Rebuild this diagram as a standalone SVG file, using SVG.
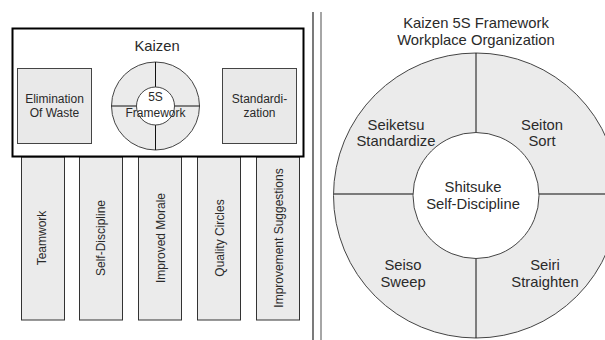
<svg xmlns="http://www.w3.org/2000/svg" width="605" height="340" viewBox="0 0 605 340">
<style>
text{font-family:"Liberation Sans",Arial,sans-serif;fill:#2a2a2a;text-anchor:middle}
.t14{font-size:14.8px}
.t12{font-size:12px}
.t11{font-size:12px}
.box{fill:#e9e9e9;stroke:#444;stroke-width:1}
.pillar{fill:#ebebeb;stroke:#333;stroke-width:1}
.ring{fill:#ebebeb;stroke:#444;stroke-width:1}
.hub{fill:#fff;stroke:#444;stroke-width:1}
.ln{stroke:#111;stroke-width:1;fill:none}
.lnh{stroke:#555;stroke-width:1.6;fill:none}
</style>
<rect width="605" height="340" fill="#fff"/>
<g id="pillars">
<g id="p-teamwork"><rect class="pillar" x="21.5" y="157" width="43" height="163"/><text class="t12" transform="translate(46,238) rotate(-90)">Teamwork</text></g>
<g id="p-selfdiscipline"><rect class="pillar" x="79.5" y="157" width="43" height="163"/><text class="t12" transform="translate(105,238) rotate(-90)">Self-Discipline</text></g>
<g id="p-morale"><rect class="pillar" x="138.5" y="157" width="43" height="163"/><text class="t12" transform="translate(164.5,238) rotate(-90)">Improved Morale</text></g>
<g id="p-quality"><rect class="pillar" x="197.5" y="157" width="43" height="163"/><text class="t12" transform="translate(223.5,238) rotate(-90)">Quality Circles</text></g>
<g id="p-suggestions"><rect class="pillar" x="256.5" y="157" width="43" height="163"/><text class="t12" transform="translate(282.5,238) rotate(-90)">Improvement Suggestions</text></g>
</g>
<g id="kaizen">
<rect x="12.5" y="28.5" width="291" height="128" fill="#fff" stroke="#000" stroke-width="2"/>
<text class="t14" x="157" y="51">Kaizen</text>
</g>
<g id="elimination">
<rect class="box" x="17.5" y="68.5" width="74" height="75"/>
<text class="t11" x="54.5" y="103">Elimination</text>
<text class="t11" x="54.5" y="117">Of Waste</text>
</g>
<g id="standardization">
<rect class="box" x="222.5" y="68.5" width="74" height="75"/>
<text class="t11" x="259.5" y="103">Standardi-</text>
<text class="t11" x="259.5" y="117">zation</text>
</g>
<g id="framework-small">
<circle class="ring" cx="155.5" cy="106" r="44"/>
<line class="ln" x1="155.5" y1="62" x2="155.5" y2="150"/>
<line class="ln" x1="111.5" y1="106" x2="199.5" y2="106"/>
<circle class="hub" cx="155.5" cy="106" r="19"/>
<text class="t11" x="155.5" y="101">5S</text>
<text class="t11" x="155.5" y="117">Framework</text>
</g>
<g id="dividers">
<line x1="313" y1="12" x2="313" y2="340" stroke="#222" stroke-width="1.2"/>
<line x1="321" y1="12" x2="321" y2="340" stroke="#888" stroke-width="1.5"/>
</g>
<g id="title">
<text class="t14" x="476" y="28">Kaizen 5S Framework</text>
<text class="t14" x="476" y="45">Workplace Organization</text>
</g>
<g id="wheel">
<circle class="ring" cx="476" cy="195.5" r="142.5"/>
<line class="ln" x1="476" y1="53" x2="476" y2="133"/>
<line class="ln" x1="476" y1="258" x2="476" y2="338"/>
<line class="lnh" x1="333" y1="194" x2="413" y2="194"/>
<line class="lnh" x1="539" y1="194" x2="605" y2="194"/>
<circle class="hub" cx="476" cy="195.5" r="63"/>
</g>
<g id="seiketsu"><text class="t14" x="396" y="130">Seiketsu</text><text class="t14" x="396" y="146">Standardize</text></g>
<g id="seiton"><text class="t14" x="542" y="130">Seiton</text><text class="t14" x="542" y="146">Sort</text></g>
<g id="shitsuke"><text class="t14" x="473" y="192">Shitsuke</text><text class="t14" x="473" y="209">Self-Discipline</text></g>
<g id="seiso"><text class="t14" x="403" y="270">Seiso</text><text class="t14" x="403" y="287">Sweep</text></g>
<g id="seiri"><text class="t14" x="545" y="270">Seiri</text><text class="t14" x="545" y="287">Straighten</text></g>
</svg>
